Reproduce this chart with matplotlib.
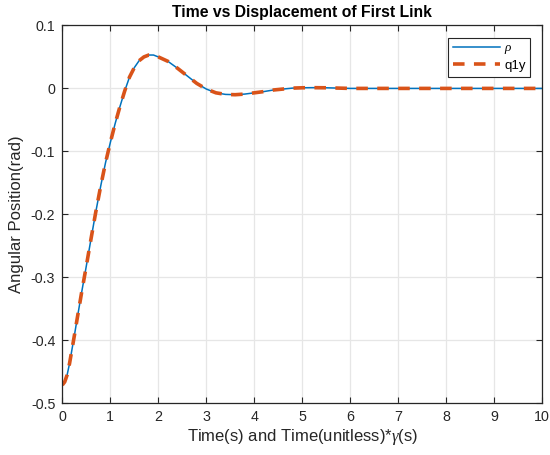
import numpy as np
import matplotlib.pyplot as plt

# readings taken off the reference curve
t = [0.00, 0.05, 0.10, 0.15, 0.20, 0.25, 0.30, 0.40, 0.50, 0.60, 0.70, 0.80,
     0.90, 1.00, 1.10, 1.20, 1.30, 1.40, 1.50, 1.60, 1.70, 1.80, 1.90, 2.00,
     2.20, 2.40, 2.60, 2.80, 3.00, 3.20, 3.40, 3.60, 3.80, 4.00, 4.20, 4.40,
     4.60, 4.80, 5.00, 5.20, 5.50, 6.00, 7.00, 8.00, 9.00, 10.00]
rho = [-0.471, -0.466, -0.455, -0.437, -0.415, -0.393, -0.370, -0.325, -0.282,
       -0.238, -0.195, -0.155, -0.118, -0.086, -0.056, -0.029, -0.004, 0.018,
       0.033, 0.044, 0.050, 0.053, 0.053, 0.050, 0.043, 0.032, 0.020, 0.008,
       -0.001, -0.007, -0.0095, -0.010, -0.009, -0.007, -0.005, -0.0025,
       -0.001, 0.0005, 0.001, 0.0012, 0.001, 0.0, 0.0, 0.0, 0.0, 0.0]
q1y = [-0.471, -0.466, -0.455, -0.437, -0.415, -0.393, -0.370, -0.325, -0.282,
       -0.238, -0.195, -0.155, -0.118, -0.086, -0.056, -0.029, -0.004, 0.018,
       0.033, 0.044, 0.050, 0.053, 0.053, 0.050, 0.043, 0.032, 0.020, 0.008,
       -0.001, -0.007, -0.0095, -0.010, -0.009, -0.007, -0.005, -0.0025,
       -0.001, 0.0005, 0.001, 0.0012, 0.001, 0.0, 0.0, 0.0, 0.0, 0.0]

xticks = list(range(0, 11))
yticks = [-0.5, -0.4, -0.3, -0.2, -0.1, 0, 0.1]
ytick_labels = ['-0.5', '-0.4', '-0.3', '-0.2', '-0.1', '0', '0.1']

plt.rcParams['font.family'] = ['Liberation Sans', 'DejaVu Sans']
plt.rcParams['axes.unicode_minus'] = False
plt.rcParams['mathtext.fontset'] = 'custom'
plt.rcParams['mathtext.it'] = 'Liberation Serif:italic'

dark = '#262626'
fig = plt.figure(figsize=(5.5, 4.55), dpi=100)
ax = fig.add_axes([0.1133, 0.1136, 0.8727, 0.8305])

ax.plot(t, rho, color='#0072BD', lw=1.1, label=r'$\rho$')
ax.plot(t, q1y, color='#D95319', lw=2.6, ls=(0, (3.2, 2.6)), label='q1y')

ax.set_xlim(0, 10)
ax.set_ylim(-0.5, 0.1)
ax.set_xticks(xticks)
ax.set_yticks(yticks)
ax.set_yticklabels(ytick_labels)
ax.grid(True, color='#e6e6e6', lw=0.9)
ax.set_axisbelow(True)
ax.tick_params(direction='in', top=True, right=True, length=4, width=0.8,
               colors=dark, labelsize=10.3, pad=5)
for s in ax.spines.values():
    s.set_color(dark)
    s.set_linewidth(0.9)

ax.set_title('Time vs Displacement of First Link', fontsize=11.3, fontweight='bold',
             color='black', pad=6)
ax.set_xlabel(r'Time(s) and Time(unitless)*$\gamma$(s)', fontsize=12, color=dark, labelpad=2)
ax.set_ylabel('Angular Position(rad)', fontsize=12, color=dark, labelpad=5)

leg = ax.legend(loc='upper right', bbox_to_anchor=(0.975, 0.968), borderaxespad=0,
                fontsize=9.5, handlelength=3.6, frameon=True, fancybox=False,
                borderpad=0.35, labelspacing=0.25, handletextpad=0.3)
leg.get_frame().set_edgecolor(dark)
leg.get_frame().set_linewidth(0.8)
leg.get_frame().set_alpha(1)

fig.savefig('out.png', dpi=100)
